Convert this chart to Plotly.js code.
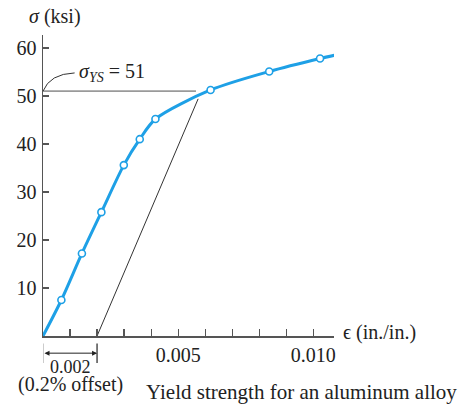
<!DOCTYPE html>
<html><head><meta charset="utf-8">
<script src="https://cdn.plot.ly/plotly-3.0.1.min.js"></script>
<style>body{margin:0;background:#fff}#c{width:464px;height:414px}</style>
</head><body><div id="c"></div>
<script>
// Stress-strain data (aluminum alloy)
const curveStrain = [0, 0.00068, 0.00144, 0.00216, 0.00299, 0.00358, 0.00416, 0.0062, 0.00837, 0.01025, 0.0108];
const curveStress = [0, 7.5, 17.2, 25.8, 35.6, 41.0, 45.2, 51.25, 55.1, 57.8, 58.5];
const pointStrain = [0.00068, 0.00144, 0.00216, 0.00299, 0.00358, 0.00416, 0.0062, 0.00837, 0.01025];
const pointStress = [7.5, 17.2, 25.8, 35.6, 41.0, 45.2, 51.25, 55.1, 57.8];
const offsetStrain = [0.002, 0.00574];
const offsetStress = [0, 49.4];
const yieldStrain = [0, 0.00566];
const yieldStress = [51, 51];
const yTicks = [10, 20, 30, 40, 50, 60];
const xTicks = [0.001, 0.002, 0.003, 0.004, 0.005, 0.006, 0.007, 0.008, 0.009, 0.010];
const xTickText = ['', '', '', '', '0.005', '', '', '', '', '0.010'];
const offsetValue = 0.002;
const yieldValue = 51;

const blue = '#1ea0e6';
const serif = 'Liberation Serif, Times New Roman, serif';
const traces = [
  {x: yieldStrain, y: yieldStress, mode: 'lines', line: {color: '#9a9a9a', width: 1.6}, hoverinfo: 'skip'},
  {x: offsetStrain, y: offsetStress, mode: 'lines', line: {color: '#333', width: 1}, hoverinfo: 'skip'},
  {x: curveStrain, y: curveStress, mode: 'lines', line: {color: blue, width: 3, shape: 'spline', smoothing: 0.8}},
  {x: pointStrain, y: pointStress, mode: 'markers', marker: {symbol: 'circle', size: 7, color: '#fff', line: {color: blue, width: 1.6}}}
];
const layout = {
  width: 464, height: 414,
  margin: {l: 43, r: 130, t: 35, b: 78},
  showlegend: false,
  paper_bgcolor: '#fff', plot_bgcolor: '#fff',
  font: {family: serif, size: 20, color: '#222'},
  xaxis: {range: [0, 0.010767], showgrid: false, zeroline: false, showline: true, linecolor: '#555', linewidth: 1.5,
    tickvals: xTicks, ticktext: xTickText, ticks: 'inside', ticklen: 7, tickcolor: '#555', tickwidth: 1.2,
    tickfont: {family: serif, size: 20, color: '#222'}},
  yaxis: {range: [0, 62.7], showgrid: false, zeroline: false, showline: true, linecolor: '#555', linewidth: 1.5,
    tickvals: yTicks, ticks: 'inside', ticklen: 6, tickcolor: '#555', tickwidth: 1.2, ticklabelstandoff: 1,
    tickfont: {family: serif, size: 20, color: '#222'}},
  shapes: [
    {type: 'path', xref: 'x', yref: 'y', path: 'M 0,51 Q 0.00025,54.6 0.00117,54.8', line: {color: '#333', width: 1}},
    {type: 'line', xref: 'x', yref: 'paper', x0: 0, x1: 0, y0: -0.025, y1: -0.09, line: {color: '#aaa', width: 1.2}},
    {type: 'line', xref: 'x', yref: 'paper', x0: offsetValue, x1: offsetValue, y0: -0.025, y1: -0.09, line: {color: '#222', width: 1.2}}
  ],
  annotations: [
    {xref: 'paper', yref: 'paper', x: -0.054, y: 1.06, xanchor: 'left', yanchor: 'middle', showarrow: false,
      text: '<i>σ</i> (ksi)', font: {size: 20}},
    {xref: 'x', yref: 'y', x: 0.00125, y: 54.8, xanchor: 'left', yanchor: 'middle', showarrow: false,
      text: '<i>σ</i><sub><i>YS</i></sub> = ' + yieldValue, font: {size: 20}},
    {xref: 'x', yref: 'paper', x: offsetValue, y: -0.057, ax: 0, axref: 'x', ay: -0.057, ayref: 'paper',
      text: '', showarrow: true, arrowside: 'end+start', arrowhead: 2, arrowsize: 1, arrowwidth: 1, arrowcolor: '#222'},
    {xref: 'x', yref: 'paper', x: offsetValue / 2, y: -0.104, xanchor: 'center', yanchor: 'middle', showarrow: false,
      borderpad: 0, text: String(offsetValue.toFixed(3)), font: {size: 18}},
    {xref: 'x', yref: 'paper', x: offsetValue / 2, y: -0.162, xanchor: 'center', yanchor: 'middle', showarrow: false,
      borderpad: 0, text: '(0.2% offset)', font: {size: 20}},
    {xref: 'paper', yref: 'paper', x: 0.89, y: -0.186, xanchor: 'center', yanchor: 'middle', showarrow: false,
      text: 'Yield strength for an aluminum alloy', font: {size: 21}},
    {xref: 'paper', yref: 'paper', x: 1.025, y: 0.01, xanchor: 'left', yanchor: 'middle', showarrow: false,
      text: 'ϵ (in./in.)', font: {size: 20}}
  ]
};
Plotly.newPlot('c', traces, layout, {staticPlot: true, displayModeBar: false});
</script></body></html>
